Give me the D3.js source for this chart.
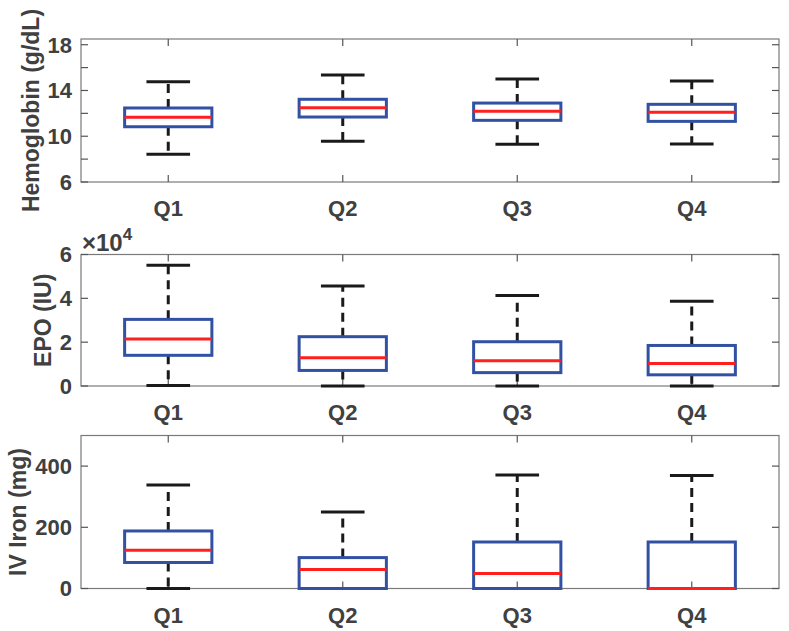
<!DOCTYPE html>
<html><head><meta charset="utf-8">
<script src="https://cdn.jsdelivr.net/npm/d3@7"></script>
<style>body{margin:0;background:#fff}svg{display:block}text{font-family:"Liberation Sans",Arial,sans-serif;font-weight:bold;fill:#404040}</style>
</head><body><svg id="c" width="789" height="631"></svg>
<script>
const categories = ["Q1","Q2","Q3","Q4"];
// [lower whisker, Q1, median, Q3, upper whisker]
const hemoglobin = [[8.42,10.83,11.65,12.47,14.77],[9.56,11.68,12.5,13.23,15.35],[9.3,11.39,12.18,12.9,15.0],[9.32,11.3,12.09,12.79,14.83]];
const epo = [[200,14000,21500,30400,55100],[0,7100,12900,22500,45600],[0,6100,11500,20200,41300],[0,5100,10300,18500,38700]];
const ivIron = [[0,85,125,188,338],[0,0,62,101,250],[0,0,49,152,371],[0,0,0,152,369]];
const hbTicks = [6,8,10,12,14,16,18], hbLabels = [6,10,14,18];
const epoTicks = [0,20000,40000,60000];
const ironTicks = [0,200,400];

const svg = d3.select("#c");
const L = 81, R = 779;
const x = d3.scaleLinear().domain([0.5,4.5]).range([L,R]);
const panels = [
  {data:hemoglobin, top:39, bottom:182, domain:[6,18.5], ticks:hbTicks, labels:hbLabels, fmt:d=>d, label:"Hemoglobin (g/dL)", lx:39},
  {data:epo, top:254.5, bottom:386, domain:[0,60000], ticks:epoTicks, labels:epoTicks, fmt:d=>d/10000, label:"EPO (IU)", lx:51, exp:true},
  {data:ivIron, top:435.5, bottom:588.5, domain:[0,500], ticks:ironTicks, labels:ironTicks, fmt:d=>d, label:"IV Iron (mg)", lx:26}
];
panels.forEach(p=>{
  const y = d3.scaleLinear().domain(p.domain).range([p.bottom,p.top]);
  const g = svg.append("g");
  g.append("rect").attr("x",L).attr("y",p.top).attr("width",R-L).attr("height",p.bottom-p.top)
    .attr("fill","none").attr("stroke","#7a7a7a").attr("stroke-width",1.2);
  p.ticks.forEach(t=>{
    g.append("line").attr("x1",L).attr("x2",L+7).attr("y1",y(t)).attr("y2",y(t)).attr("stroke","#555").attr("stroke-width",1.2);
    g.append("line").attr("x1",R-7).attr("x2",R).attr("y1",y(t)).attr("y2",y(t)).attr("stroke","#555").attr("stroke-width",1.2);
  });
  p.labels.forEach(t=>{
    g.append("text").attr("x",L-9).attr("y",y(t)).attr("dy","0.36em").attr("text-anchor","end")
      .attr("font-size",22).text(p.fmt(t));
  });
  categories.forEach((c,i)=>{
    const cx = x(i+1);
    g.append("line").attr("x1",cx).attr("x2",cx).attr("y1",p.top).attr("y2",p.top+7).attr("stroke","#555").attr("stroke-width",1.2);
    g.append("line").attr("x1",cx).attr("x2",cx).attr("y1",p.bottom).attr("y2",p.bottom-7).attr("stroke","#555").attr("stroke-width",1.2);
    g.append("text").attr("x",cx).attr("y",p.bottom+34).attr("text-anchor","middle").attr("font-size",22).text(c);
  });
  g.append("text").attr("transform",`translate(${p.lx},${(p.top+p.bottom)/2}) rotate(-90)`)
    .attr("text-anchor","middle").attr("font-size",23).text(p.label);
  if(p.exp){
    const t = g.append("text").attr("x",82).attr("y",p.top-4).attr("font-size",24).attr("font-weight","normal");
    t.append("tspan").text("\u00d710");
    t.append("tspan").attr("font-size",17).attr("dy",-11).text("4");
  }
  const bw = 0.25, cw = 0.125;
  p.data.forEach((d,i)=>{
    const cx = x(i+1);
    const [lo,q1,med,q3,hi] = d;
    g.append("line").attr("x1",cx).attr("x2",cx).attr("y1",y(q3)).attr("y2",y(hi))
      .attr("stroke","#1a1a1a").attr("stroke-width",3).attr("stroke-dasharray","9,6");
    g.append("line").attr("x1",cx).attr("x2",cx).attr("y1",y(q1)).attr("y2",y(lo))
      .attr("stroke","#1a1a1a").attr("stroke-width",3).attr("stroke-dasharray","9,6");
    [lo,hi].forEach(v=>g.append("line").attr("x1",x(i+1-cw)).attr("x2",x(i+1+cw)).attr("y1",y(v)).attr("y2",y(v))
      .attr("stroke","#1a1a1a").attr("stroke-width",3));
    g.append("rect").attr("x",x(i+1-bw)).attr("y",y(q3)).attr("width",x(i+1+bw)-x(i+1-bw)).attr("height",y(q1)-y(q3))
      .attr("fill","none").attr("stroke","#3251a3").attr("stroke-width",3);
    g.append("line").attr("x1",x(i+1-bw)).attr("x2",x(i+1+bw)).attr("y1",y(med)).attr("y2",y(med))
      .attr("stroke","#ff1f1f").attr("stroke-width",3);
  });
});
</script></body></html>
